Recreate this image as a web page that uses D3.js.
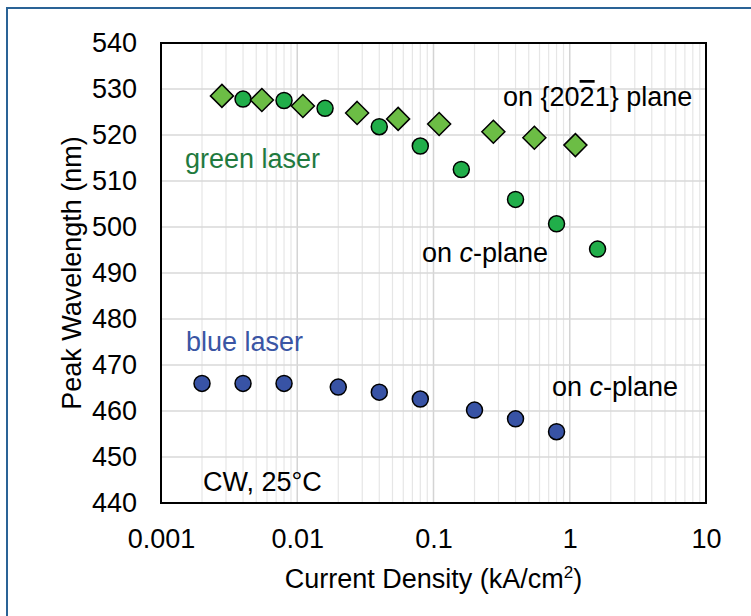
<!DOCTYPE html>
<html>
<head>
<meta charset="utf-8">
<script src="https://cdn.jsdelivr.net/npm/d3@7"></script>
<style>
  body { margin: 0; background: #fff; }
  svg text { font-family: "Liberation Sans", Arial, sans-serif; }
</style>
</head>
<body>
<div id="chart"></div>
<script>
// green laser on c-plane (circles)
const greenCX = [0.004, 0.008, 0.016, 0.04, 0.08, 0.16, 0.4, 0.8, 1.6];
const greenCY = [527.8, 527.5, 525.8, 521.8, 517.6, 512.5, 506.0, 500.7, 495.2];
// green laser on {20-21} plane (diamonds)
const greenDX = [0.0028, 0.0055, 0.011, 0.0275, 0.055, 0.11, 0.275, 0.55, 1.1];
const greenDY = [528.5, 527.6, 526.3, 524.8, 523.5, 522.4, 520.7, 519.4, 517.8];
// blue laser on c-plane
const blueX = [0.002, 0.004, 0.008, 0.02, 0.04, 0.08, 0.2, 0.4, 0.8];
const blueY = [466.0, 466.0, 466.0, 465.2, 464.1, 462.6, 460.2, 458.3, 455.5];

const xTicks = [0.001, 0.01, 0.1, 1, 10];
const xTickLabels = ["0.001", "0.01", "0.1", "1", "10"];
const yTicks = [440, 450, 460, 470, 480, 490, 500, 510, 520, 530, 540];

const width = 751;
const height = 616;
const margin = { top: 43, right: 45, bottom: 113, left: 161 };
const innerWidth = width - margin.left - margin.right;
const innerHeight = height - margin.top - margin.bottom;

const svg = d3.select("#chart").append("svg")
  .attr("width", width)
  .attr("height", height);

// outer frame (cropped on right and bottom)
svg.append("path")
  .attr("d", `M7,${height} L7,8 L${width},8`)
  .attr("fill", "none")
  .attr("stroke", "#2a6396")
  .attr("stroke-width", 2);

const g = svg.append("g")
  .attr("transform", `translate(${margin.left},${margin.top})`);

const x = d3.scaleLog().domain([0.001, 10]).range([0, innerWidth]);
const y = d3.scaleLinear().domain([440, 540]).range([innerHeight, 0]);

// minor log grid
const minor = [];
for (let e = -3; e < 1; e++) {
  for (let m = 2; m <= 9; m++) minor.push(m * Math.pow(10, e));
}
g.selectAll(".vminor").data(minor).enter().append("line")
  .attr("x1", d => x(d)).attr("x2", d => x(d))
  .attr("y1", 0).attr("y2", innerHeight)
  .attr("stroke", "#e6e6e6").attr("stroke-width", 1.2);

g.selectAll(".vmajor").data(xTicks.slice(1, -1)).enter().append("line")
  .attr("x1", d => x(d)).attr("x2", d => x(d))
  .attr("y1", 0).attr("y2", innerHeight)
  .attr("stroke", "#d4d4d4").attr("stroke-width", 1.5);

g.selectAll(".hgrid").data(yTicks.slice(1, -1)).enter().append("line")
  .attr("x1", 0).attr("x2", innerWidth)
  .attr("y1", d => y(d)).attr("y2", d => y(d))
  .attr("stroke", "#d9d9d9").attr("stroke-width", 1.5);

// axes (labels only)
const xAxis = d3.axisBottom(x).tickValues(xTicks)
  .tickFormat((d, i) => xTickLabels[i]).tickSize(0).tickPadding(26);
const gx = g.append("g").attr("transform", `translate(0,${innerHeight})`).call(xAxis)
  .attr("font-size", 27).attr("font-family", "Liberation Sans, Arial, sans-serif");
gx.select(".domain").remove();
gx.selectAll("text").attr("fill", "#000");

const yAxis = d3.axisLeft(y).tickValues(yTicks).tickSize(0).tickPadding(24);
const gy = g.append("g").call(yAxis)
  .attr("font-size", 27).attr("font-family", "Liberation Sans, Arial, sans-serif");
gy.select(".domain").remove();
gy.selectAll("text").attr("fill", "#000");

// plot frame
g.append("rect")
  .attr("width", innerWidth).attr("height", innerHeight)
  .attr("fill", "none").attr("stroke", "#000").attr("stroke-width", 2);

// blue circles
g.selectAll(".blue").data(blueX).enter().append("circle")
  .attr("cx", d => x(d)).attr("cy", (d, i) => y(blueY[i])).attr("r", 8)
  .attr("fill", "#3853a5").attr("stroke", "#000").attr("stroke-width", 1.5);

// green circles
g.selectAll(".gc").data(greenCX).enter().append("circle")
  .attr("cx", d => x(d)).attr("cy", (d, i) => y(greenCY[i])).attr("r", 8)
  .attr("fill", "#21ae4a").attr("stroke", "#000").attr("stroke-width", 1.5);

// green diamonds
const h = 11.5;
g.selectAll(".gd").data(greenDX).enter().append("path")
  .attr("d", (d, i) => {
    const cx = x(d), cy = y(greenDY[i]);
    return `M${cx},${cy - h}L${cx + h},${cy}L${cx},${cy + h}L${cx - h},${cy}Z`;
  })
  .attr("fill", "#6cbd45").attr("stroke", "#000").attr("stroke-width", 1.5);

// annotations
const note = (tx, ty, color) => svg.append("text")
  .attr("x", tx).attr("y", ty).attr("font-size", 27).attr("fill", color);

note(185, 168, "#1f7a3e").text("green laser");
note(186, 351, "#3a55a4").text("blue laser");
note(203, 491, "#000").text("CW, 25°C");

const c1 = note(422, 262, "#000");
c1.append("tspan").text("on ");
c1.append("tspan").attr("font-style", "italic").text("c");
c1.append("tspan").text("-plane");

const c2 = note(552, 396, "#000");
c2.append("tspan").text("on ");
c2.append("tspan").attr("font-style", "italic").text("c");
c2.append("tspan").text("-plane");

const p = note(503, 106, "#000");
p.append("tspan").text("on {20");
p.append("tspan").attr("text-decoration", "overline").text("2");
p.append("tspan").text("1} plane");

// axis titles
svg.append("text")
  .attr("x", margin.left + innerWidth / 2).attr("y", 588)
  .attr("text-anchor", "middle").attr("font-size", 27)
  .html('Current Density (kA/cm<tspan dy="-10" font-size="17">2</tspan><tspan dy="10">)</tspan>');

svg.append("text")
  .attr("transform", `translate(81,${margin.top + innerHeight / 2}) rotate(-90)`)
  .attr("text-anchor", "middle").attr("font-size", 27)
  .text("Peak Wavelength (nm)");
</script>
</body>
</html>
